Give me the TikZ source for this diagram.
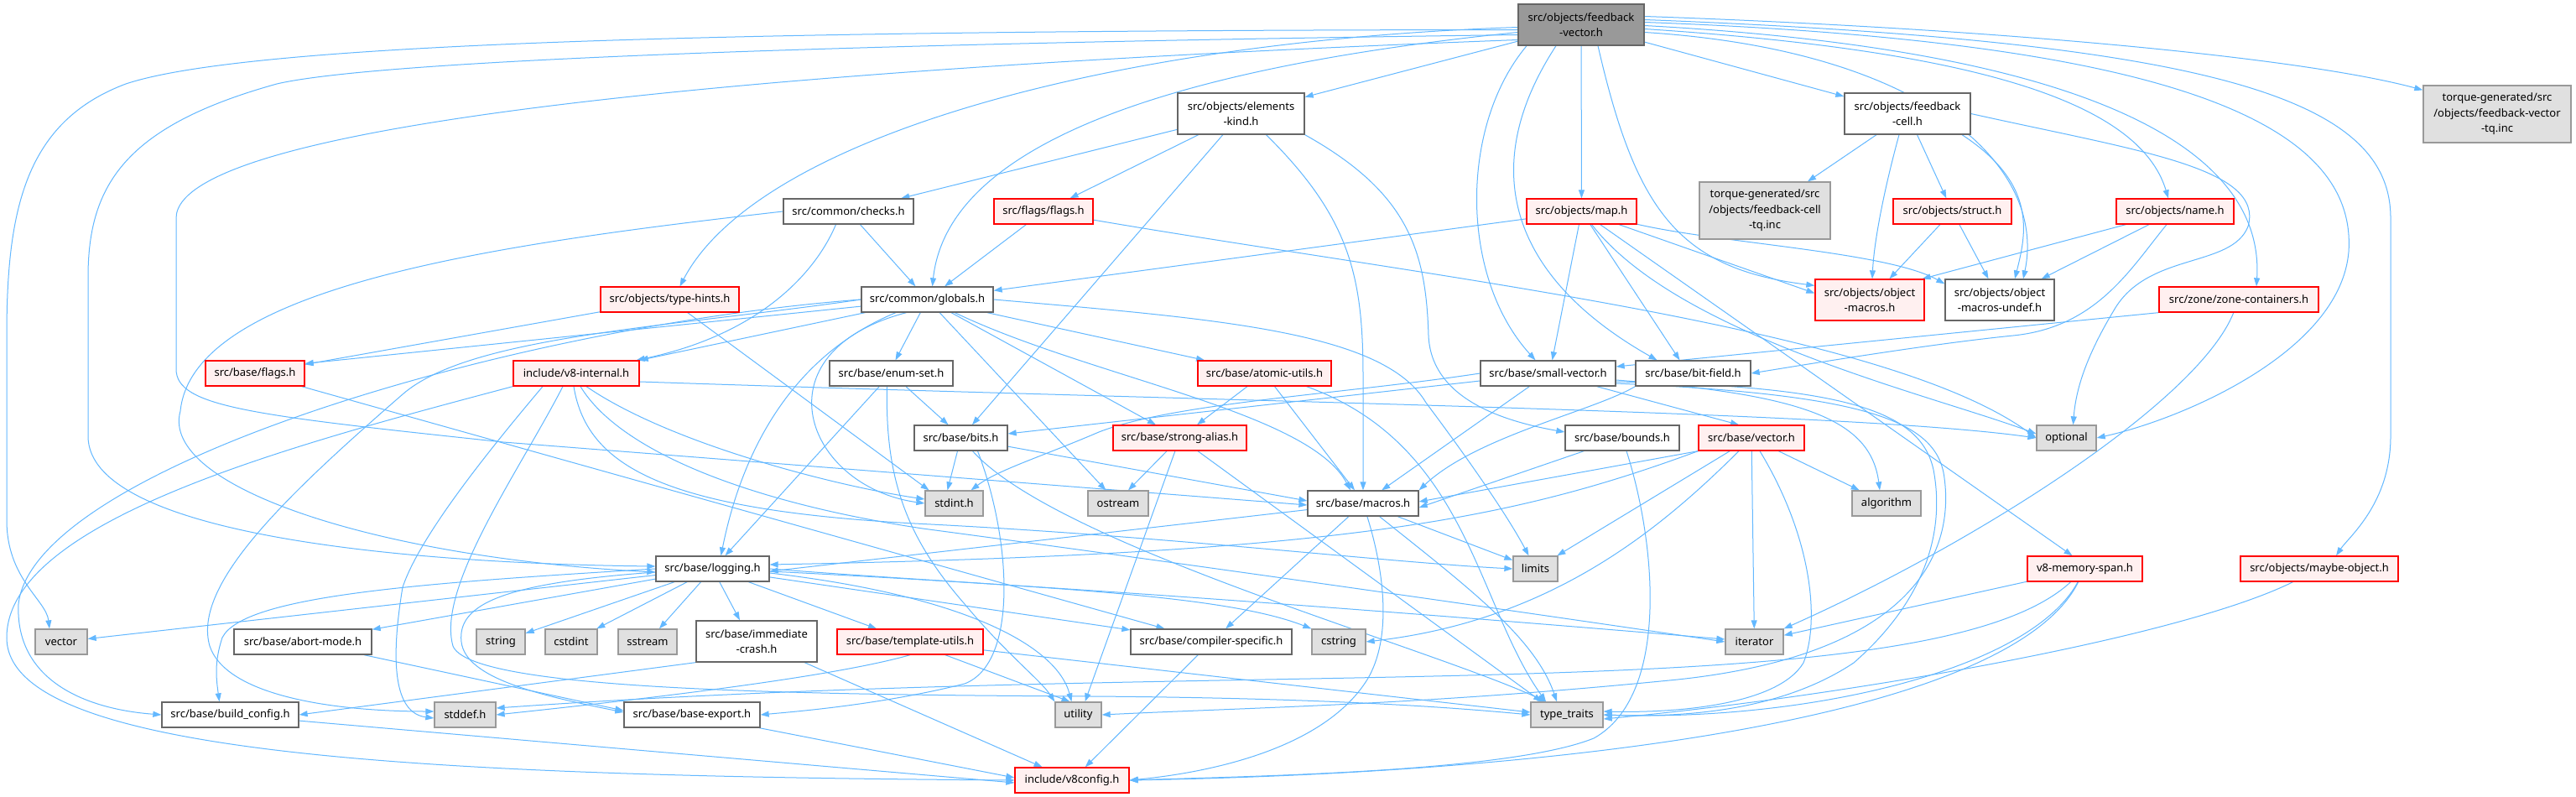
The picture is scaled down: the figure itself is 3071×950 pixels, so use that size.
\documentclass[tikz,border=0pt]{standalone}
\usepackage{fontspec}
\setmainfont{Noto Sans}
\usetikzlibrary{arrows.meta}
\definecolor{eb}{HTML}{63B8FF}
\definecolor{cdk}{HTML}{666666}
\definecolor{cred}{HTML}{FF0000}
\definecolor{cpink}{HTML}{FFF0F0}
\definecolor{cgr}{HTML}{E0E0E0}
\definecolor{cgb}{HTML}{999999}
\pgfdeclarelayer{bg}
\pgfsetlayers{bg,main}
\begin{document}
\begin{tikzpicture}[x=1pt,y=-1pt,
 nb/.style={draw=cdk, fill=white, line width=1.3pt, inner sep=0pt, align=center, font=\fontsize{13}{18.5}\selectfont},
 rb/.style={nb, draw=cred, fill=cpink},
 gb/.style={nb, draw=cgb, fill=cgr},
 ed/.style={draw=eb, line width=1pt, -{Triangle[length=10pt,width=7pt]}},
]
\useasboundingbox (0,0) rectangle (3071,950);
% nodes
\node[nb, fill=cgb, minimum width=150pt, minimum height=49pt] (fv) at (1885,29.5) {src/objects/feedback\\-vector.h};
\node[nb, minimum width=151pt, minimum height=49pt] (ek) at (1479.5,135.5) {src/objects/elements\\-kind.h};
\node[nb, minimum width=150pt, minimum height=49pt] (fc) at (2274,135.5) {src/objects/feedback\\-cell.h};
\node[gb, minimum width=176pt, minimum height=68pt] (tqv) at (2977,136) {torque-generated/src\\/objects/feedback-vector\\-tq.inc};
\node[nb, minimum width=155pt, minimum height=30pt] (ch) at (1011.5,252) {src/common/checks.h};
\node[rb, minimum width=118pt, minimum height=30pt] (ff) at (1244,252) {src/flags/flags.h};
\node[rb, minimum width=131pt, minimum height=30pt] (mp) at (1885.5,252) {src/objects/map.h};
\node[gb, minimum width=156pt, minimum height=68pt] (tqc) at (2104,251) {torque-generated/src\\/objects/feedback-cell\\-tq.inc};
\node[rb, minimum width=141pt, minimum height=30pt] (st) at (2327.5,252) {src/objects/struct.h};
\node[rb, minimum width=140pt, minimum height=30pt] (nm) at (2593,252) {src/objects/name.h};
\node[rb, minimum width=165pt, minimum height=30pt] (th) at (798.5,357) {src/objects/type-hints.h};
\node[nb, minimum width=157pt, minimum height=30pt] (gl) at (1105.5,357) {src/common/globals.h};
\node[rb, minimum width=130pt, minimum height=49pt] (om) at (2229,357.5) {src/objects/object\\-macros.h};
\node[nb, minimum width=130pt, minimum height=49pt] (omu) at (2384,357.5) {src/objects/object\\-macros-undef.h};
\node[rb, minimum width=190pt, minimum height=30pt] (zc) at (2669,357) {src/zone/zone-containers.h};
\node[rb, minimum width=118pt, minimum height=30pt] (bf) at (304,445) {src/base/flags.h};
\node[rb, minimum width=150pt, minimum height=30pt] (vi) at (687,445) {include/v8-internal.h};
\node[nb, minimum width=147pt, minimum height=30pt] (es) at (1062.5,445) {src/base/enum-set.h};
\node[rb, minimum width=159pt, minimum height=30pt] (au) at (1507.5,445) {src/base/atomic-utils.h};
\node[nb, minimum width=161pt, minimum height=30pt] (sv) at (1845.5,445) {src/base/small-vector.h};
\node[nb, minimum width=137pt, minimum height=30pt] (bfd) at (2018.5,445) {src/base/bit-field.h};
\node[nb, minimum width=111pt, minimum height=30pt] (bits) at (1145.5,522) {src/base/bits.h};
\node[rb, minimum width=159pt, minimum height=30pt] (sa) at (1406.5,522) {src/base/strong-alias.h};
\node[nb, minimum width=136pt, minimum height=30pt] (bd) at (1934,522) {src/base/bounds.h};
\node[rb, minimum width=126pt, minimum height=30pt] (vec) at (2088,522) {src/base/vector.h};
\node[gb, minimum width=71pt, minimum height=30pt] (opt) at (2463.5,522) {optional};
\node[gb, minimum width=69pt, minimum height=30pt] (stdint) at (1137.5,600) {stdint.h};
\node[gb, minimum width=72pt, minimum height=30pt] (ost) at (1333,600) {ostream};
\node[nb, minimum width=132pt, minimum height=30pt] (mac) at (1625,600) {src/base/macros.h};
\node[gb, minimum width=82pt, minimum height=30pt] (alg) at (2249,600) {algorithm};
\node[nb, minimum width=135pt, minimum height=30pt] (log) at (849.5,678) {src/base/logging.h};
\node[gb, minimum width=53pt, minimum height=30pt] (lim) at (1830.5,678) {limits};
\node[rb, minimum width=137pt, minimum height=30pt] (vms) at (2485.5,678) {v8-memory-span.h};
\node[rb, minimum width=188pt, minimum height=30pt] (mo) at (2765,678) {src/objects/maybe-object.h};
\node[gb, minimum width=62pt, minimum height=30pt] (vector) at (73,765) {vector};
\node[nb, minimum width=164pt, minimum height=30pt] (am) at (361,765) {src/base/abort-mode.h};
\node[gb, minimum width=58pt, minimum height=30pt] (string) at (597,765) {string};
\node[gb, minimum width=62pt, minimum height=30pt] (cstdint) at (681,765) {cstdint};
\node[gb, minimum width=70pt, minimum height=30pt] (sstream) at (772,765) {sstream};
\node[nb, minimum width=144pt, minimum height=49pt] (ic) at (902,764.5) {src/base/immediate\\-crash.h};
\node[rb, minimum width=174pt, minimum height=30pt] (tu) at (1085,765) {src/base/template-utils.h};
\node[nb, minimum width=192pt, minimum height=30pt] (cs) at (1444,765) {src/base/compiler-specific.h};
\node[gb, minimum width=64pt, minimum height=30pt] (cstring) at (1596,765) {cstring};
\node[gb, minimum width=69pt, minimum height=30pt] (iter) at (2091.5,765) {iterator};
\node[nb, minimum width=163pt, minimum height=30pt] (bc) at (274.5,852) {src/base/build\_config.h};
\node[gb, minimum width=73pt, minimum height=30pt] (sdd) at (554.5,852) {stddef.h};
\node[nb, minimum width=162pt, minimum height=30pt] (be) at (825,852) {src/base/base-export.h};
\node[gb, minimum width=55pt, minimum height=30pt] (util) at (1285.5,852) {utility};
\node[gb, minimum width=86pt, minimum height=30pt] (tt) at (1868,852) {type\_traits};
\node[rb, minimum width=136pt, minimum height=30pt] (v8c) at (1278,930) {include/v8config.h};

\begin{pgfonlayer}{bg}
\fill[white] (0,0) rectangle (3071,950);
% feedback-vector.h
\draw[ed] ([yshift=-6pt]fv.west) .. controls (900,36) and (300,50) .. (150,100) .. controls (30,145) and (8,250) .. (8,400) -- (8,620) .. controls (8,690) and (55,715) .. ([xshift=-14pt]vector.north);
\draw[ed] ([yshift=-12pt]fv.west) .. controls (1000,52) and (450,72) .. (330,100) .. controls (150,150) and (105,220) .. (105,330) -- (105,520) .. controls (105,640) and (500,672) .. ([yshift=3pt]log.west);
\draw[ed] ([yshift=-18pt]fv.west) .. controls (1000,78) and (210,140) .. (210,260) -- (210,440) .. controls (210,485) and (300,495) .. (600,527) -- ([yshift=-2pt]mac.west);
\draw[ed] (fv) -- (ek);
\draw[ed] (fv) -- (fc);
\draw[ed] (fv) -- (mp);
\draw[ed] ([yshift=-3pt]fv.west) .. controls (1300,50) and (900,170) .. ([xshift=12pt]th.north);
\draw[ed] ([yshift=-9pt]fv.west) .. controls (1400,80) and (1130,170) .. ([xshift=6pt]gl.north);
\draw[ed] ([xshift=-65pt]fv.south) .. controls (1740,150) and (1740,330) .. ([xshift=-15pt]sv.north);
\draw[ed] ([xshift=-30pt]fv.south) .. controls (1760,200) and (1800,330) .. ([xshift=-43pt]bfd.north);
\draw[ed] ([xshift=20pt]fv.south) .. controls (1950,250) and (2000,320) .. ([yshift=-8pt]om.north west);
\draw[ed] ([yshift=-9pt]fv.east) .. controls (2300,60) and (2440,200) .. ([xshift=28pt]omu.north);
\draw[ed] ([yshift=-5pt]fv.east) .. controls (2350,60) and (2550,120) .. ([xshift=-8pt]nm.north);
\draw[ed] ([yshift=-1pt]fv.east) .. controls (2500,60) and (2700,180) .. ([xshift=21pt]zc.north);
\draw[ed] ([yshift=3pt]fv.east) .. controls (2600,50) and (2810,150) .. (2800,300) .. controls (2790,420) and (2600,500) .. (opt.east);
\draw[ed] ([yshift=6pt]fv.east) .. controls (2650,50) and (2850,120) .. (2850,260) -- (2850,520) .. controls (2850,600) and (2800,640) .. ([xshift=20pt]mo.north);
\draw[ed] ([yshift=10pt]fv.east) .. controls (2400,35) and (2750,70) .. ([yshift=-6pt]tqv.north west);
% elements-kind.h
\draw[ed] (ek) -- (ch);
\draw[ed] (ek) -- (ff);
\draw[ed] (ek) -- (bits);
\draw[ed] ([xshift=30pt]ek.south) .. controls (1610,260) and (1625,330) .. (1625,450) -- (mac.north);
\draw[ed] (ek.south east) .. controls (1680,230) and (1700,300) .. (1703,400) .. controls (1706,470) and (1780,500) .. ([yshift=7pt]bd.west);
% feedback-cell.h
\draw[ed] (fc) -- (tqc);
\draw[ed] ([xshift=-10pt]fc.south) .. controls (2245,230) and (2234,290) .. ([xshift=3pt]om.north);
\draw[ed] (fc) -- (st);
\draw[ed] ([xshift=65pt]fc.south) .. controls (2430,220) and (2415,280) .. ([xshift=18pt]omu.north);
\draw[ed] (fc.east) .. controls (2550,180) and (2700,200) .. (2680,270) .. controls (2660,320) and (2560,300) .. (2520,370) .. controls (2490,420) and (2475,460) .. ([xshift=8pt]opt.north);
% checks.h
\draw[ed] (ch) -- (gl);
\draw[ed] ([xshift=-15pt]ch.south) .. controls (970,330) and (900,400) .. ([xshift=-4pt]vi.north east);
\draw[ed] (ch.west) .. controls (600,290) and (230,340) .. (215,490) .. controls (190,580) and (450,665) .. ([yshift=-4pt]log.west);
% flags.h
\draw[ed] (ff) -- (gl);
\draw[ed] (ff) .. controls (1700,330) and (2250,390) .. (opt.west);
% map.h
\draw[ed] (mp) -- (gl);
\draw[ed] (mp) -- ([xshift=5pt]sv.north);
\draw[ed] (mp) -- ([xshift=-16pt]bfd.north);
\draw[ed] (mp) -- ([yshift=8pt]om.west);
\draw[ed] (mp) .. controls (2050,290) and (2250,300) .. ([yshift=-6pt]omu.north west);
\draw[ed] (mp) .. controls (2000,400) and (2300,470) .. ([yshift=5pt]opt.west);
\draw[ed] (mp) -- ([xshift=-15pt]vms.north);
% struct.h, name.h
\draw[ed] (st) -- (om);
\draw[ed] (st) -- (omu);
\draw[ed] (nm) -- ([xshift=-3pt]om.north east);
\draw[ed] (nm) -- (omu);
\draw[ed] ([xshift=-10pt]nm.south) .. controls (2540,320) and (2500,390) .. (2400,400) .. controls (2300,410) and (2150,435) .. (bfd.east);
% type-hints.h
\draw[ed] (th) -- (bf);
\draw[ed] (th) -- ([xshift=-30pt]stdint.north);
% globals.h
\draw[ed] (gl) -- ([yshift=-4pt]bf.north east);
\draw[ed] (gl) -- (vi.north east);
\draw[ed] (gl) -- ([xshift=5pt]es.north);
\draw[ed] (gl) -- (au);
\draw[ed] (gl) -- (sa);
\draw[ed] (gl) .. controls (1300,450) and (1560,490) .. ([xshift=-15pt]mac.north);
\draw[ed] (gl) -- (ost);
\draw[ed] ([xshift=-25pt]gl.south) .. controls (900,420) and (960,580) .. (stdint.west);
\draw[ed] (gl.east) .. controls (1450,380) and (1650,395) .. (1700,480) .. controls (1760,560) and (1800,620) .. ([xshift=-8pt]lim.north);
\draw[ed] (gl) .. controls (930,430) and (880,560) .. ([xshift=10pt]log.north);
\draw[ed] (gl.west) .. controls (600,390) and (40,560) .. (22,720) .. controls (18,810) and (100,845) .. (bc.west);
\draw[ed] (gl.west) .. controls (800,390) and (560,400) .. (480,470) .. controls (330,600) and (230,700) .. (250,770) .. controls (270,830) and (400,848) .. ([yshift=4pt]sdd.west);
% zone-containers.h
\draw[ed] (zc.south west) -- ([yshift=8pt]sv.east);
\draw[ed] (zc) .. controls (2620,480) and (2350,650) .. (iter.north east);
% base/flags.h
\draw[ed] (bf) -- (cs);
% v8-internal.h
\draw[ed] ([yshift=-10pt]vi.east) .. controls (1500,480) and (2200,490) .. (opt.west);
\draw[ed] (vi.south west) .. controls (350,530) and (8,620) .. (8,760) .. controls (8,900) and (500,925) .. (v8c.west);
\draw[ed] ([xshift=-40pt]vi.south) .. controls (580,540) and (500,640) .. (480,700) .. controls (465,790) and (470,850) .. ([yshift=-4pt]sdd.west);
\draw[ed] ([xshift=-16pt]vi.south) .. controls (620,560) and (520,700) .. (540,770) .. controls (560,820) and (900,828) .. (1300,830) .. controls (1600,832) and (1750,845) .. (tt.west);
\draw[ed] ([xshift=-3pt]vi.south) .. controls (700,560) and (800,610) .. (1110,625) .. controls (1400,640) and (1650,670) .. (lim.west);
\draw[ed] ([xshift=5pt]vi.south) .. controls (740,540) and (900,600) .. (1100,630) .. controls (1400,670) and (1750,720) .. (iter.west);
\draw[ed] ([xshift=12pt]vi.south) .. controls (800,530) and (1000,580) .. ([yshift=5pt]stdint.west);
% enum-set.h
\draw[ed] (es) -- ([xshift=-15pt]bits.north);
\draw[ed] (es) -- ([xshift=15pt]log.north);
\draw[ed] ([xshift=-5pt]es.south) .. controls (1055,570) and (1080,640) .. (1150,720) .. controls (1200,780) and (1240,810) .. (util.north west);
% atomic-utils.h
\draw[ed] (au) -- (sa);
\draw[ed] (au) -- ([xshift=-10pt]mac.north);
\draw[ed] ([xshift=50pt]au.south) .. controls (1750,530) and (1760,720) .. ([xshift=-25pt]tt.north);
% small-vector.h
\draw[ed] (sv) -- ([yshift=5pt]bits.east);
\draw[ed] (sv.west) .. controls (1600,470) and (1400,480) .. (1310,515) .. controls (1240,545) and (1190,560) .. ([xshift=20pt]stdint.north);
\draw[ed] (sv) -- (mac);
\draw[ed] (sv) -- ([xshift=-15pt]vec.north);
\draw[ed] ([yshift=-8pt]sv.east) .. controls (2150,470) and (2230,500) .. ([xshift=-8pt]alg.north);
\draw[ed] ([yshift=-10pt]sv.east) .. controls (2200,460) and (2290,490) .. (2305,560) .. controls (2320,640) and (2290,720) .. (2210,790) .. controls (2120,850) and (2000,855) .. (tt.east);
\draw[ed] ([yshift=-12pt]sv.east) .. controls (2220,470) and (2310,500) .. (2318,570) .. controls (2330,660) and (2280,780) .. (2000,810) .. controls (1700,840) and (1500,843) .. (util.east);
% bit-field.h
\draw[ed] (bfd.south west) .. controls (1900,490) and (1760,520) .. (mac.north east);
% bits.h
\draw[ed] (bits) -- ([xshift=-8pt]stdint.north);
\draw[ed] (bits) -- ([yshift=3pt]mac.west);
\draw[ed] (bits) .. controls (1260,650) and (1700,770) .. ([xshift=-25pt]tt.north);
\draw[ed] ([xshift=20pt]bits.south) .. controls (1205,640) and (1215,790) .. (1150,815) .. controls (1050,840) and (950,848) .. (be.east);
% strong-alias.h
\draw[ed] (sa) -- ([xshift=12pt]ost.north);
\draw[ed] (sa) -- ([xshift=8pt]util.north);
\draw[ed] (sa) -- ([xshift=-30pt]tt.north);
% bounds.h
\draw[ed] (bd) -- ([yshift=-5pt]mac.east);
\draw[ed] ([xshift=5pt]bd.south) .. controls (1975,650) and (1990,830) .. (1900,880) .. controls (1800,920) and (1500,925) .. (v8c.east);
% vector.h
\draw[ed] (vec.south west) -- ([yshift=2pt]mac.east);
\draw[ed] (vec.south west) .. controls (1800,620) and (1600,660) .. ([yshift=5pt]log.east);
\draw[ed] (vec) -- (lim);
\draw[ed] ([xshift=-15pt]vec.south) .. controls (1980,630) and (1850,740) .. (cstring.east);
\draw[ed] (vec) -- (iter);
\draw[ed] ([xshift=10pt]vec.south) .. controls (2160,640) and (2170,740) .. (2150,790) .. controls (2120,840) and (2000,850) .. ([yshift=4pt]tt.east);
\draw[ed] (vec) -- (alg);
% macros.h
\draw[ed] (mac) -- ([yshift=-3pt]log.east);
\draw[ed] (mac) -- (cs);
\draw[ed] (mac) .. controls (1650,680) and (1660,760) .. (1630,810) .. controls (1580,890) and (1450,920) .. (v8c.east);
\draw[ed] (mac) -- (lim);
\draw[ed] (mac) .. controls (1750,700) and (1830,760) .. ([xshift=-12pt]tt.north);
% logging.h
\draw[ed] (log) -- (vector);
\draw[ed] (log) -- (am);
\draw[ed] (log) -- (string);
\draw[ed] (log) -- (cstdint);
\draw[ed] (log) -- (sstream);
\draw[ed] (log) -- ([xshift=-20pt]ic.north);
\draw[ed] (log) -- ([xshift=-40pt]tu.north);
\draw[ed] (log) -- (cs);
\draw[ed] (log.east) .. controls (1200,700) and (1450,705) .. (cstring.north west);
\draw[ed] ([yshift=-3pt]log.east) .. controls (1300,700) and (1800,740) .. ([yshift=3pt]iter.west);
\draw[ed] ([yshift=-5pt]log.east) .. controls (1150,710) and (1260,770) .. ([xshift=-8pt]util.north);
\draw[ed] (log.west) .. controls (500,695) and (290,710) .. (265,760) .. controls (255,790) and (258,810) .. ([xshift=-13pt]bc.north);
\draw[ed] ([yshift=-4pt]log.west) .. controls (600,695) and (545,720) .. (550,765) .. controls (555,810) and (650,830) .. ([yshift=3pt]be.west);
% others
\draw[ed] (am) -- ([yshift=5pt]be.west);
\draw[ed] (ic.south west) -- (bc.east);
\draw[ed] (ic) -- (v8c);
\draw[ed] (tu.south) .. controls (1000,805) and (800,830) .. (sdd.east);
\draw[ed] (tu) -- ([xshift=-10pt]util.north);
\draw[ed] (tu) -- ([yshift=3pt]tt.west);
\draw[ed] (cs) -- (v8c);
\draw[ed] (bc) -- ([yshift=-3pt]v8c.west);
\draw[ed] (be) -- ([yshift=3pt]v8c.west);
% v8-memory-span.h
\draw[ed] (vms) -- (iter);
\draw[ed] (vms) .. controls (2300,850) and (1500,780) .. ([yshift=8pt]sdd.east);
\draw[ed] (vms) .. controls (2420,800) and (2150,860) .. (tt.east);
\draw[ed] (vms) .. controls (2400,850) and (1900,920) .. (v8c.east);
% maybe-object.h
\draw[ed] (mo) .. controls (2600,760) and (2200,830) .. ([yshift=-5pt]tt.east);
\end{pgfonlayer}
\end{tikzpicture}
\end{document}
